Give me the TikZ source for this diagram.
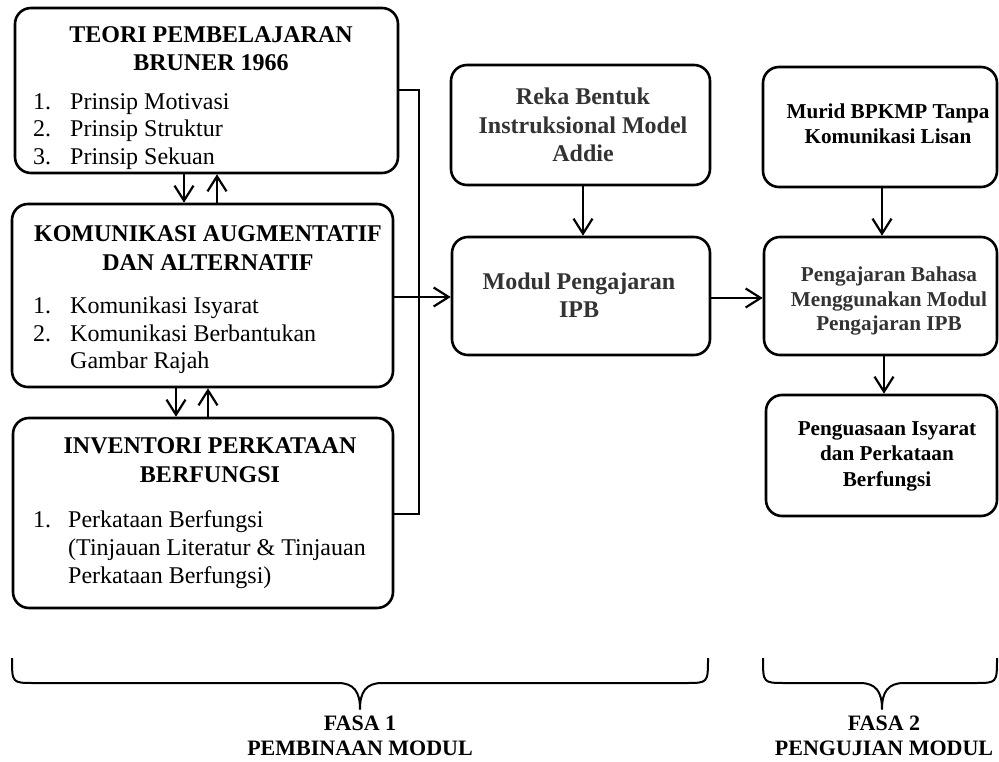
\documentclass[tikz,border=0pt]{standalone}
\usepackage{fontspec}
\setmainfont{Liberation Serif}
\usetikzlibrary{arrows.meta,fit}
\begin{document}
\begin{tikzpicture}[x=1pt,y=-1pt,
  box/.style={draw=black, line width=2.6pt, rounded corners=16pt, inner sep=0pt},
  conn/.style={draw=black, line width=2.2pt},
  arr/.style={conn, -{Straight Barb[length=15pt,width=19pt]}},
  brc/.style={draw=black, line width=2pt, line join=round},
  big/.style={inner sep=0pt, font=\fontsize{24}{27}\selectfont},
  med/.style={inner sep=0pt, font=\fontsize{21.2}{25}\selectfont\bfseries},
  fas/.style={inner sep=0pt, anchor=base, font=\fontsize{22}{24}\selectfont\bfseries},
  ttl/.style={big, anchor=base, font=\fontsize{24}{27}\selectfont\bfseries},
  num/.style={big, anchor=base west},
  mid/.style={inner sep=0pt, anchor=base, text=black!80, font=\fontsize{24}{27}\selectfont\bfseries},
  rgt/.style={med, anchor=base},
  rgtg/.style={med, anchor=base, text=black!80}]
\useasboundingbox (0,0) rectangle (999,762);

% ---------- left column ----------
\node[box, fit={(15,8) (398,173)}] (b1) {};
\node[ttl] (t1a) at (211,43) {TEORI PEMBELAJARAN};
\node[ttl] (t1b) at (211,71) {BRUNER 1966};
\node[num] (n1a) at (33,110) {1.};
\node[num] (l1a) at (70,110) {Prinsip Motivasi};
\node[num] (n1b) at (33,137) {2.};
\node[num] (l1b) at (70,137) {Prinsip Struktur};
\node[num] (n1c) at (33,165) {3.};
\node[num] (l1c) at (70,165) {Prinsip Sekuan};

\node[box, fit={(12,204) (393,387)}] (b2) {};
\node[ttl] (t2a) at (208,242) {KOMUNIKASI AUGMENTATIF};
\node[ttl] (t2b) at (208,270) {DAN ALTERNATIF};
\node[num] (n2a) at (33,313) {1.};
\node[num] (l2a) at (70,313) {Komunikasi Isyarat};
\node[num] (n2b) at (33,341) {2.};
\node[num] (l2b) at (70,341) {Komunikasi Berbantukan};
\node[num] (l2c) at (70,368) {Gambar Rajah};

\node[box, fit={(13,418) (393,608)}] (b3) {};
\node[ttl] (t3a) at (210,453) {INVENTORI PERKATAAN};
\node[ttl] (t3b) at (210,482) {BERFUNGSI};
\node[num] (n3a) at (33,527) {1.};
\node[num] (l3a) at (68,527) {Perkataan Berfungsi};
\node[num] (l3b) at (68,555) {(Tinjauan Literatur \& Tinjauan};
\node[num] (l3c) at (68,583) {Perkataan Berfungsi)};

% ---------- middle column ----------
\node[box, fit={(451,65) (710,185)}] (reka) {};
\node[mid] (tra) at (583,105) {Reka Bentuk};
\node[mid] (trb) at (583,134) {Instruksional Model};
\node[mid] (trc) at (583,162) {Addie};

\node[box, fit={(452,237) (710,355)}] (modul) {};
\node[mid] (tma) at (579,290) {Modul Pengajaran};
\node[mid] (tmb) at (579,317) {IPB};

% ---------- right column ----------
\node[box, fit={(763,67) (997,187)}] (murid) {};
\node[rgt] (tua) at (888,119) {Murid BPKMP Tanpa};
\node[rgt] (tub) at (888,144) {Komunikasi Lisan};

\node[box, fit={(764,237) (997,355)}] (peng) {};
\node[rgtg] (tpa) at (889,281) {Pengajaran Bahasa};
\node[rgtg] (tpb) at (889,306) {Menggunakan Modul};
\node[rgtg] (tpc) at (889,330) {Pengajaran IPB};

\node[box, fit={(766,395) (997,516)}] (pengu) {};
\node[rgt] (tga) at (887,435) {Penguasaan Isyarat};
\node[rgt] (tgb) at (887,460) {dan Perkataan};
\node[rgt] (tgc) at (887,486) {Berfungsi};

% ---------- connectors ----------
\coordinate (xa) at (184,0);
\coordinate (xb) at (217,0);
\coordinate (xc) at (176,0);
\coordinate (xd) at (208,0);
\draw[arr] (xa |- b1.south) -- (xa |- b2.north);
\draw[arr] (xb |- b2.north) -- (xb |- b1.south);
\draw[arr] (xc |- b2.south) -- (xc |- b3.north);
\draw[arr] (xd |- b3.north) -- (xd |- b2.south);

\coordinate (kv) at (419,90);
\coordinate (kb) at (419,514);
\draw[conn] (b1.east |- kv) -- (kv) -- (kb) -- (b3.east |- kb);

\coordinate (ya) at (0,297);
\draw[arr] (b2.east |- ya) -- (modul.west |- ya);
\coordinate (xr) at (583,0);
\draw[arr] (xr |- reka.south) -- (xr |- modul.north);
\coordinate (yb) at (0,298);
\draw[arr] (modul.east |- yb) -- (peng.west |- yb);
\coordinate (xm) at (882,0);
\draw[arr] (xm |- murid.south) -- (xm |- peng.north);
\coordinate (xp) at (884,0);
\draw[arr] (xp |- peng.south) -- (xp |- pengu.north);

% ---------- braces ----------
\draw[brc] (12,658) .. controls (12,683) and (12,683) .. (34,683) -- (338,683)
  .. controls (354,683) and (360,692) .. (360,709)
  .. controls (360,692) and (366,683) .. (382,683) -- (686,683)
  .. controls (708,683) and (708,683) .. (708,658);
\draw[brc] (763,658) .. controls (763,683) and (763,683) .. (785,683) -- (860,683)
  .. controls (876,683) and (882,692) .. (882,709)
  .. controls (882,692) and (888,683) .. (904,683) -- (975,683)
  .. controls (997,683) and (997,683) .. (997,658);

\node[fas] (f1a) at (360,730.5) {FASA 1};
\node[fas] (f1b) at (360,755) {PEMBINAAN MODUL};
\node[fas] (f2a) at (884,730.5) {FASA 2};
\node[fas] (f2b) at (884,755) {PENGUJIAN MODUL};
\end{tikzpicture}
\end{document}
